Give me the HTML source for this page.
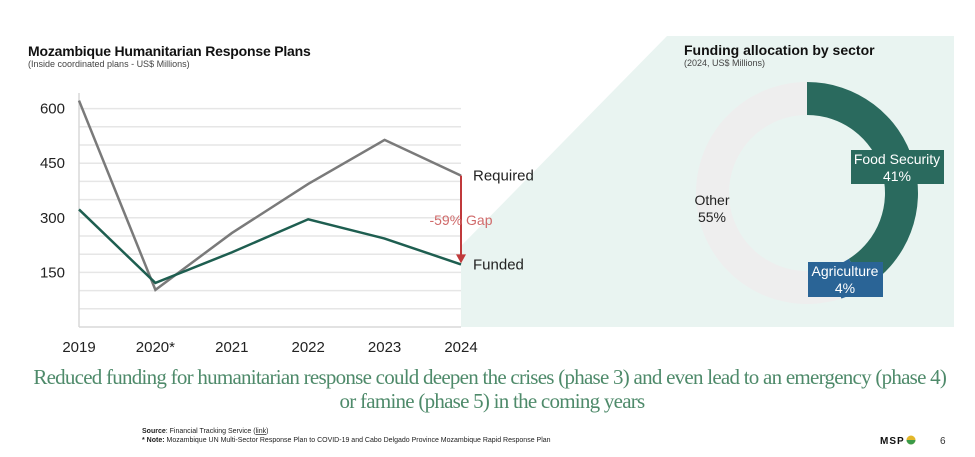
<!DOCTYPE html>
<html><head><meta charset="utf-8">
<style>
body{margin:0;background:#fff;width:975px;height:457px;overflow:hidden;font-family:"Liberation Sans",sans-serif;}
svg{display:block}
</style></head>
<body>
<svg id="s" width="975" height="457" viewBox="0 0 975 457">
  <polygon points="461,246 667,36 954,36 954,327 461,327" fill="#e9f4f1"/>
  <text x="28" y="56" font-size="14" font-weight="bold" fill="#111" letter-spacing="-0.2">Mozambique Humanitarian Response Plans</text>
  <text x="28" y="67" font-size="9" fill="#444">(Inside coordinated plans - US$ Millions)</text>
  <g id="grid"></g>
  <g id="yticks"></g>
  <g id="xticks"></g>
  <g id="lines"></g>
  <text x="684" y="55" font-size="14" font-weight="bold" fill="#111">Funding allocation by sector</text>
  <text x="684" y="66" font-size="9" fill="#444">(2024, US$ Millions)</text>
  <g id="donut"></g>
  <text font-family="'Liberation Serif',serif" font-size="21" fill="#4e8a6a" text-anchor="middle" letter-spacing="-0.75">
    <tspan x="492" y="384">Reduced funding for humanitarian response could deepen the crises (phase 3) and even lead to an emergency (phase 4)</tspan>
    <tspan x="492" y="408">or famine (phase 5) in the coming years</tspan>
  </text>
  <text x="142" y="433" font-size="7" fill="#222"><tspan font-weight="bold">Source</tspan>: Financial Tracking Service (<tspan text-decoration="underline">link</tspan>)</text>
  <text x="142" y="442" font-size="7" fill="#222"><tspan font-weight="bold">* Note:</tspan> Mozambique UN Multi-Sector Response Plan to COVID-19 and Cabo Delgado Province Mozambique Rapid Response Plan</text>
  <text x="880" y="444" font-size="10" font-weight="bold" fill="#111" letter-spacing="1">MSP</text>
  <circle cx="911" cy="440" r="4.5" fill="#e2b72a"/>
  <path d="M906.5 440 A4.5 4.5 0 0 0 915.5 440 Z" fill="#3b9b49"/>
  <text x="940" y="444" font-size="10" fill="#333">6</text>
</svg>
<script>
const years = ["2019","2020*","2021","2022","2023","2024"];
const required = [622, 102, 258, 393, 514, 416];
const funded = [323, 121, 205, 296, 243, 172];
const yTickValues = [150, 300, 450, 600];
const gapLabel = "-59% Gap";
const sectorNames = ["Food Security", "Agriculture", "Other"];
const sectorShares = [41, 4, 55];

const NS = "http://www.w3.org/2000/svg";
const X0 = 79, XSTEP = 76.4, Y0 = 327, YK = 0.364;
const xs = i => X0 + i * XSTEP;
const ys = v => Y0 - v * YK;
function mk(tag, attrs, parent){ const e=document.createElementNS(NS,tag); for(const k in attrs) e.setAttribute(k,attrs[k]); parent.appendChild(e); return e; }

const grid = document.getElementById('grid');
for(let v=50; v<=600; v+=50){
  const l = mk('line',{x1:X0,x2:xs(5),y1:ys(v),y2:ys(v),stroke:'#e6e6e6','stroke-width':1.5},grid);
  
  
}
const ax = mk('line',{x1:X0,x2:X0,y1:93,y2:Y0,stroke:'#d8d8d8','stroke-width':1.5},grid);


const bx = mk('line',{x1:X0,x2:xs(5),y1:Y0,y2:Y0,stroke:'#d8d8d8','stroke-width':1.5},grid);



const yt = document.getElementById('yticks');
yTickValues.forEach(v=>{
  const t = mk('text',{x:65,y:ys(v)+5,'font-size':15,'text-anchor':'end',fill:'#222'},yt);
  t.textContent = v;
  
  
});
const xt = document.getElementById('xticks');
years.forEach((y,i)=>{
  const t = mk('text',{x:xs(i),y:352,'font-size':15,'text-anchor':'middle',fill:'#222'},xt);
  t.textContent = y;
  
  
});

const lines = document.getElementById('lines');
const pr = mk('polyline',{points:required.map((v,i)=>xs(i)+','+ys(v)).join(' '),fill:'none',stroke:'#7a7a7a','stroke-width':2.5},lines);


const pf = mk('polyline',{points:funded.map((v,i)=>xs(i)+','+ys(v)).join(' '),fill:'none',stroke:'#1e5e50','stroke-width':2.5},lines);


const last = years.length-1, lx = xs(last);
const ar = mk('line',{x1:lx,x2:lx,y1:ys(required[last]),y2:ys(funded[last])-8,stroke:'#c0393b','stroke-width':2},lines);


const ah = mk('polygon',{points:`${lx-5},${ys(funded[last])-10} ${lx+5},${ys(funded[last])-10} ${lx},${ys(funded[last])-1}`,fill:'#c0393b'},lines);


const gl = mk('text',{x:lx,y:(ys(required[last])+ys(funded[last]))/2+5,'font-size':14,'text-anchor':'middle',fill:'#d06a6a'},lines);
gl.textContent = gapLabel;


const rl = mk('text',{x:lx+12,y:ys(required[last])+5,'font-size':15,fill:'#222'},lines);
rl.textContent = 'Required';


const fl = mk('text',{x:lx+12,y:ys(funded[last])+5,'font-size':15,fill:'#222'},lines);
fl.textContent = 'Funded';



// donut
const dn = document.getElementById('donut');
const CX=807, CY=193, RO=111, RI=78;
const colors = ['#2a6a5e','#2a6496','#eeeeee'];
const total = sectorShares.reduce((a,b)=>a+b,0);
let acc = 0;
function pt(r,a){ return [CX + r*Math.sin(a), CY - r*Math.cos(a)]; }
sectorShares.forEach((s,i)=>{
  const a0 = acc/total*2*Math.PI; acc += s; const a1 = acc/total*2*Math.PI;
  const big = (a1-a0)>Math.PI?1:0;
  const p0=pt(RO,a0), p1=pt(RO,a1), p2=pt(RI,a1), p3=pt(RI,a0);
  const d=`M${p0} A${RO},${RO} 0 ${big} 1 ${p1} L${p2} A${RI},${RI} 0 ${big} 0 ${p3} Z`;
  const p = mk('path',{d:d,fill:colors[i]},dn);
  
  
});
const fsBox = mk('rect',{x:851,y:150,width:93,height:34,fill:'#2a6a5e'},dn);


const agBox = mk('rect',{x:808,y:262,width:75,height:35,fill:'#2a6496'},dn);


const labelPos = [[897,164,181,'#fff'],[845,276,293,'#fff'],[712,205,222,'#222']];
sectorNames.forEach((n,i)=>{
  const [x,y1,y2,c] = labelPos[i];
  const t1 = mk('text',{x:x,y:y1,'font-size':14,'text-anchor':'middle',fill:c},dn);
  t1.textContent = n;
  
  
  const t2 = mk('text',{x:x,y:y2,'font-size':14,'text-anchor':'middle',fill:c},dn);
  t2.textContent = sectorShares[i]+'%';
  
  
});
</script>
</body></html>
